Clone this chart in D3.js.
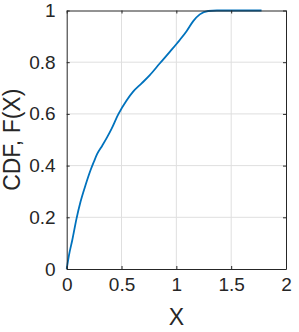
<!DOCTYPE html>
<html>
<head>
<meta charset="utf-8">
<script src="https://cdn.jsdelivr.net/npm/d3@7"></script>
<style>
  html, body { margin: 0; padding: 0; background: #fff; }
  svg { display: block; }
</style>
</head>
<body>
<div id="chart"></div>
<script>
// values
const xVals = [0, 0.021, 0.051, 0.09, 0.126, 0.172, 0.218, 0.248, 0.278, 0.324, 0.369, 0.41, 0.47, 0.546, 0.606, 0.683, 0.758, 0.85, 0.942, 1.033, 1.093, 1.154, 1.214, 1.29, 1.37, 1.777];
const fVals = [0, 0.054, 0.112, 0.196, 0.26, 0.325, 0.383, 0.415, 0.445, 0.477, 0.51, 0.543, 0.598, 0.652, 0.686, 0.718, 0.75, 0.796, 0.841, 0.887, 0.92, 0.959, 0.985, 0.998, 1, 1];
const xTicks = [0, 0.5, 1, 1.5, 2];
const yTicks = [0, 0.2, 0.4, 0.6, 0.8, 1];

const width = 299, height = 332;
const plotL = 66.7, plotR = 286, plotT = 10.5, plotB = 269;

const x = d3.scaleLinear().domain([0, 2]).range([plotL, plotR]);
const y = d3.scaleLinear().domain([0, 1]).range([plotB, plotT]);

const svg = d3.select("#chart").append("svg")
    .attr("width", width)
    .attr("height", height)
    .style("font-family", "'Liberation Sans', Arial, sans-serif");

// grid
svg.append("g").selectAll("line")
  .data(xTicks.slice(1, -1))
  .join("line")
    .attr("x1", d => x(d)).attr("x2", d => x(d))
    .attr("y1", plotT).attr("y2", plotB)
    .attr("stroke", "#dfdfdf").attr("stroke-width", 1);
svg.append("g").selectAll("line")
  .data(yTicks.slice(1, -1))
  .join("line")
    .attr("y1", d => y(d)).attr("y2", d => y(d))
    .attr("x1", plotL).attr("x2", plotR)
    .attr("stroke", "#dfdfdf").attr("stroke-width", 1);

// curve
const pts = xVals.map((v, i) => [v, fVals[i]]);
svg.append("path")
    .datum(pts)
    .attr("fill", "none")
    .attr("stroke", "#0072BD")
    .attr("stroke-width", 1.8)
    .attr("d", d3.line().x(d => x(d[0])).y(d => y(d[1])).curve(d3.curveMonotoneX));

// axes, ticks inward, box on
const tickLen = 3;
const axisColor = "#262626";
const bAxis = svg.append("g").attr("transform", `translate(0,${plotB})`)
    .call(d3.axisBottom(x).tickValues(xTicks).tickSizeInner(-tickLen).tickSizeOuter(0).tickPadding(9).tickFormat(d3.format("")));
const tAxis = svg.append("g").attr("transform", `translate(0,${plotT})`)
    .call(d3.axisTop(x).tickValues(xTicks).tickSizeInner(-tickLen).tickSizeOuter(0).tickFormat(""));
const lAxis = svg.append("g").attr("transform", `translate(${plotL},0)`)
    .call(d3.axisLeft(y).tickValues(yTicks).tickSizeInner(-tickLen).tickSizeOuter(0).tickPadding(11).tickFormat(d3.format("")));
const rAxis = svg.append("g").attr("transform", `translate(${plotR},0)`)
    .call(d3.axisRight(y).tickValues(yTicks).tickSizeInner(-tickLen).tickSizeOuter(0).tickFormat(""));

[bAxis, tAxis, lAxis, rAxis].forEach(g => {
  g.selectAll(".domain").attr("stroke", axisColor).attr("stroke-width", 1);
  g.selectAll(".tick line").attr("stroke", axisColor);
  g.selectAll("text").attr("fill", axisColor).style("font-size", "19px").style("font-family", "'Liberation Sans', Arial, sans-serif");
});

// axis labels
svg.append("text")
    .attr("x", (plotL + plotR) / 2)
    .attr("y", 325)
    .attr("text-anchor", "middle")
    .attr("fill", axisColor)
    .style("font-size", "23px")
    .text("X");
svg.append("text")
    .attr("transform", `translate(20,${(plotT + plotB) / 2}) rotate(-90)`)
    .attr("text-anchor", "middle")
    .attr("fill", axisColor)
    .style("font-size", "23px")
    .text("CDF, F(X)");
</script>
</body>
</html>
